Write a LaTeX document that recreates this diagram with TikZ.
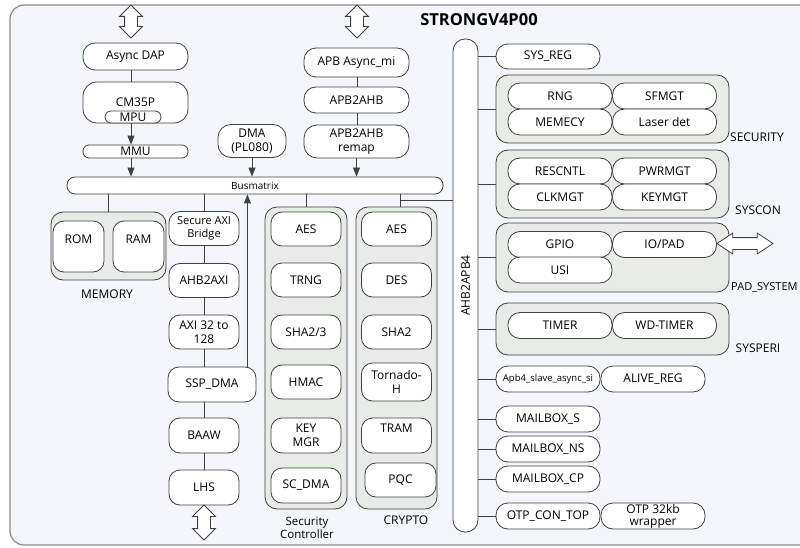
\documentclass[tikz,border=0pt]{standalone}
\usepackage{fontspec}
\setmainfont{Open Sans}
\usepackage{xcolor}
\usepackage{tikz}
\usetikzlibrary{arrows.meta, positioning, shapes.arrows, calc}

\definecolor{bgc}{HTML}{F3F6FA}
\definecolor{grpc}{HTML}{E8ECE6}
\definecolor{linec}{HTML}{404040}
\definecolor{framec}{HTML}{8A8A8A}

\tikzset{
  blk/.style={draw=linec, fill=white, line width=0.8pt, rounded corners=11pt,
    minimum width=70pt, minimum height=34pt, inner sep=1pt, align=center,
    font=\fontsize{12}{13.5}\selectfont},
  pill/.style={blk, rounded corners=12pt, minimum width=104pt, minimum height=26pt},
  grp/.style={draw=linec, fill=grpc, line width=0.8pt, rounded corners=12pt, inner sep=0pt},
  grplabel/.style={font=\fontsize{12}{13.5}\selectfont, align=center},
  wire/.style={draw=linec, line width=0.8pt},
  flow/.style={wire, -{Triangle[length=9pt,width=7pt]}},
  bigarrow/.style={double arrow, draw=linec, fill=white, line width=0.8pt,
    inner sep=6pt, minimum width=22pt, double arrow head extend=5pt},
}

\begin{document}
\begin{tikzpicture}[x=1pt,y=-1pt]
\useasboundingbox (0,0) rectangle (800,548);
\clip (0,0) rectangle (800,548);

% frame
\draw[draw=framec, fill=bgc, line width=1.2pt, rounded corners=14pt] (10,5) rectangle (830,545);
\node[font=\bfseries\fontsize{16.5}{18}\selectfont] (title) at (479,20) {STRONGV4P00};

% CPU path
\node[bigarrow, shape border rotate=90, minimum height=33pt] (dapio) at (131,21.5) {};
\node[pill, minimum width=105pt, minimum height=27pt] (dap) at (135.5,56.5) {Async DAP};
\node[blk, minimum width=105pt, minimum height=41pt, rounded corners=14pt] (cpu) at (135.5,102.5) {CM35P};
\node[blk, minimum width=56pt, minimum height=12pt, rounded corners=6pt, inner sep=0pt] (mpu) at (133,117) {MPU};
\node[blk, minimum width=105pt, minimum height=13pt, rounded corners=6pt, inner sep=0pt] (mmu) at (135.5,151.5) {MMU};
\draw[wire] (dap.south -| dapio) -- (cpu.north -| dapio);
\draw[flow] (mpu.south -| dapio) -- (mmu.north -| dapio);

% DMA
\node[blk, minimum width=68pt, minimum height=33pt, rounded corners=13pt] (dma) at (252,141) {DMA\\(PL080)};

% APB path
\node[bigarrow, shape border rotate=90, minimum height=33pt] (apbio) at (357,21.5) {};
\node[pill, minimum width=105pt, minimum height=29pt] (apbmi) at (356.5,62.5) {APB Async\_mi};
\node[pill, minimum width=105pt] (apb2ahb) at (356.5,100) {APB2AHB};
\node[blk, minimum width=105pt, minimum height=33pt, rounded corners=13pt] (remap) at (356.5,141.5) {APB2AHB\\remap};
\draw[wire] (apbmi.south -| apbio) -- (apb2ahb.north -| apbio);
\draw[wire] (apb2ahb.south -| apbio) -- (remap.north -| apbio);

% Busmatrix
\node[blk, minimum width=376pt, minimum height=17pt, rounded corners=8pt, inner sep=0pt,
  font=\fontsize{10}{11}\selectfont] (bus) at (255,185.5) {Busmatrix};
\draw[flow] (mmu.south -| dapio) -- (bus.north -| dapio);
\draw[flow] (dma) -- (dma |- bus.north);
\draw[flow] (remap) -- (remap |- bus.north);

% MEMORY
\node[grp, minimum width=115pt, minimum height=68pt] (memory) at (108.5,246) {};
\node[blk, minimum width=51pt, minimum height=51pt, text depth=15pt] (rom) at (78.5,246.5) {ROM};
\node[blk, minimum width=51pt, minimum height=51pt, text depth=15pt] (ram) at (138.5,246.5) {RAM};
\node[grplabel] (memlabel) at (107,294) {MEMORY};
\draw[wire] (bus.south -| memory.north) -- (memory.north);

% AXI path
\node[blk, font=\fontsize{11}{12.5}\selectfont] (sab) at (204,228.5) {Secure AXI\\Bridge};
\node[blk] (ahb2axi) at (204,280.5) {AHB2AXI};
\node[blk] (axi) at (204,332) {AXI 32 to\\128};
\node[blk, minimum width=88pt, minimum height=35pt] (ssp) at (212,384.5) {SSP\_DMA};
\node[blk, minimum height=35pt] (baaw) at (204,435.5) {BAAW};
\node[blk, minimum height=35pt] (lhs) at (204,487.5) {LHS};
\node[bigarrow, shape border rotate=90, minimum height=35pt] (lhsio) at (204,522.5) {};
\draw[wire] (bus.south -| sab) -- (sab);
\draw[wire] (sab) -- (ahb2axi);
\draw[wire] (ahb2axi) -- (axi);
\draw[wire] (axi) -- (axi |- ssp.north);
\draw[wire] (baaw |- ssp.south) -- (baaw);
\draw[wire] (baaw) -- (lhs);
\draw[flow] ([xshift=-9pt]ssp.north east) -- ([xshift=-9pt]ssp.north east |- bus.south);

% Security Controller
\node[grp, minimum width=82pt, minimum height=302pt] (secctl) at (306,358) {};
\node[blk] (aesa) at (306,229) {AES};
\node[blk] (trng) at (306,280) {TRNG};
\node[blk] (shaa) at (306,332) {SHA2/3};
\node[blk] (hmac) at (306,382) {HMAC};
\node[blk, minimum height=35pt] (keymgr) at (306,435.5) {KEY\\MGR};
\node[blk, minimum height=35pt] (scdma) at (306,485.5) {SC\_DMA};
\node[grplabel, font=\fontsize{11.5}{13.5}\selectfont] (seclabel) at (307,528) {Security\\Controller};
\draw[wire] (bus.south -| secctl.north) -- (secctl.north);

% CRYPTO
\node[grp, minimum width=81pt, minimum height=302pt] (crypto) at (396.5,358) {};
\node[blk] (aesb) at (396.5,229) {AES};
\node[blk] (des) at (396.5,280) {DES};
\node[blk] (shab) at (396.5,332) {SHA2};
\node[blk, minimum height=38pt] (tornado) at (396.5,382) {Tornado-\\H};
\node[blk, minimum height=35pt, text depth=15pt] (tram) at (396.5,435.5) {TRAM};
\node[blk, minimum width=71pt] (pqc) at (400.5,480) {PQC};
\node[grplabel] (cryptolabel) at (406,520) {CRYPTO};

% AHB2APB4
\node[blk, minimum width=25pt, minimum height=493pt, rounded corners=12pt] (ahb) at (465.5,285.5) {\rotatebox{90}{AHB2APB4}};
\coordinate (tap) at (400,200);
\draw[wire] (tap |- bus.south) -- (tap |- crypto.north);
\draw[wire] (tap) -- (tap -| ahb.west);

% APB slaves
\node[pill, minimum height=25pt] (sysreg) at (548,56.5) {SYS\_REG};

\node[grp, minimum width=233pt, minimum height=68pt] (security) at (612.5,109) {};
\node[pill] (rng) at (560,96) {RNG};
\node[pill] (sfmgt) at (664.5,96) {SFMGT};
\node[pill] (memecy) at (560,122) {MEMECY};
\node[pill] (laser) at (664.5,122) {Laser det};
\node[grplabel] (securitylabel) at (757,137) {SECURITY};

\node[grp, minimum width=233pt, minimum height=68pt] (syscon) at (612.5,184) {};
\node[pill] (rescntl) at (560,171) {RESCNTL};
\node[pill] (pwrmgt) at (664.5,171) {PWRMGT};
\node[pill] (clkmgt) at (560,197) {CLKMGT};
\node[pill] (keymgt) at (664.5,197) {KEYMGT};
\node[grplabel] (sysconlabel) at (758,210) {SYSCON};

\node[grp, minimum width=233pt, minimum height=69pt] (pad) at (612.5,257.5) {};
\node[pill] (gpio) at (560,244.5) {GPIO};
\node[pill] (iopad) at (664.5,244.5) {IO/PAD};
\node[pill] (usi) at (560,270) {USI};
\node[grplabel, anchor=west, inner sep=0pt, font=\fontsize{11}{13}\selectfont] (padlabel) at (731,287) {PAD\_SYSTEM};
\node[bigarrow, minimum height=56pt, minimum width=20pt, inner sep=5.5pt,
  double arrow head extend=4.5pt, double arrow tip angle=67] (padio) at (745,243.5) {};

\node[grp, minimum width=233pt, minimum height=52pt] (sysperi) at (612.5,329) {};
\node[pill] (timer) at (560,325.5) {TIMER};
\node[pill] (wdtimer) at (664.5,325.5) {WD-TIMER};
\node[grplabel] (sysperilabel) at (758,348) {SYSPERI};

\node[pill, font=\fontsize{9.5}{11}\selectfont] (apbslave) at (548,379) {Apb4\_slave\_async\_si};
\node[pill] (alivereg) at (653,379) {ALIVE\_REG};
\node[pill] (mbs) at (548,419) {MAILBOX\_S};
\node[pill] (mbns) at (548,449) {MAILBOX\_NS};
\node[pill] (mbcp) at (548,479) {MAILBOX\_CP};
\node[pill] (otpcon) at (548,516) {OTP\_CON\_TOP};
\node[pill, font=\fontsize{12}{12}\selectfont] (otpwrap) at (653,516) {OTP 32kb\\wrapper};

\foreach \n in {sysreg,security,syscon,pad,sysperi,apbslave,mbs,mbns,mbcp,otpcon}
  \draw[wire] (ahb.east |- \n.west) -- (\n.west);
\end{tikzpicture}
\end{document}
